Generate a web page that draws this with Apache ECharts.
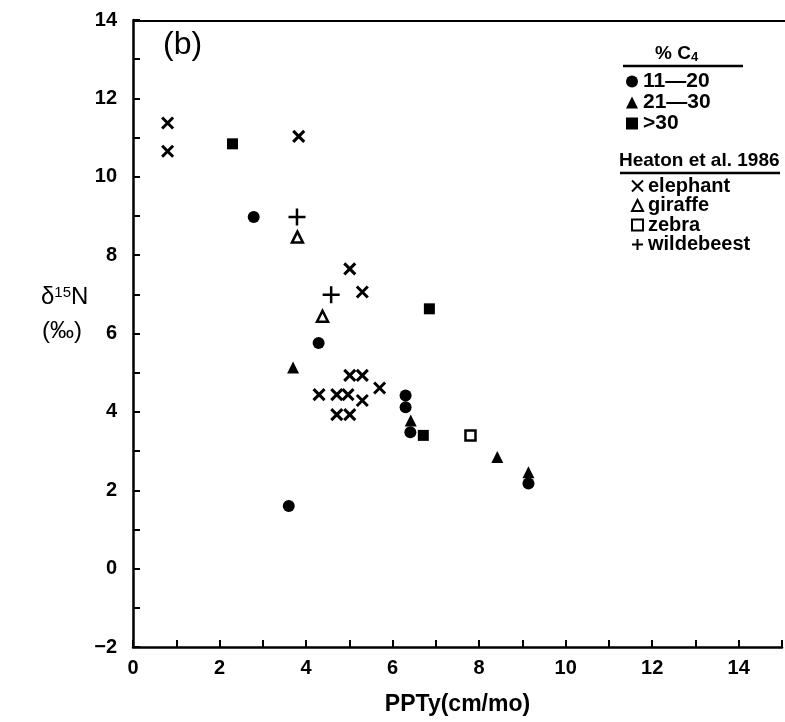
<!DOCTYPE html>
<html><head><meta charset="utf-8">
<script src="https://cdn.jsdelivr.net/npm/echarts@6/dist/echarts.min.js"></script>
<style>html,body{margin:0;padding:0;background:#fff}#c{width:785px;height:722px}</style>
</head><body><div id="c"></div>
<script>
// [PPTy (cm/mo), delta15N (permil)]
const c4_11_20 = [[2.79,8.97],[4.29,5.76],[6.30,4.42],[6.30,4.12],[6.41,3.48],[9.14,2.17],[3.60,1.60]];
const c4_21_30 = [[3.70,5.13],[6.42,3.78],[8.42,2.85],[9.14,2.46]];
const c4_gt30 = [[2.30,10.84],[6.85,6.63],[6.71,3.40]];
const elephant = [[0.80,11.37],[0.80,10.65],[3.83,11.03],[5.01,7.65],[5.30,7.06],[5.01,4.93],[5.30,4.93],
  [4.30,4.44],[4.71,4.44],[4.97,4.44],[5.30,4.29],[5.70,4.61],[4.71,3.93],[5.01,3.93]];
const giraffe = [[3.80,8.46],[4.38,6.44]];
const zebra = [[7.80,3.40]];
const wildebeest = [[3.79,8.97],[4.58,6.99]];
const xTicks = [0,2,4,6,8,10,12,14];
const yTicks = [-2,0,2,4,6,8,10,12,14];

const FONT = 'Liberation Sans';
const chart = echarts.init(document.getElementById('c'), null, {renderer:'canvas'});
const X_PATH = 'path://M0,0L10,10M10,0L0,10';
const PLUS_PATH = 'path://M5,0L5,10M0,5L10,5';
const black = '#000';
function lab(v){ return (v<0?'\u2212':'')+Math.abs(v); }
chart.setOption({
  animation:false,
  backgroundColor:'#fff',
  grid:{left:133,top:20,right:0,bottom:75,containLabel:false},
  xAxis:{type:'value',min:0,max:15,interval:1,
    axisLine:{onZero:false,lineStyle:{color:black,width:2.5}},
    axisTick:{inside:true,length:7,lineStyle:{color:black,width:2}},
    splitLine:{show:false},
    axisLabel:{color:black,fontFamily:FONT,fontWeight:'bold',fontSize:20,margin:11,
      formatter:v=>xTicks.indexOf(v)>=0?lab(v):''},
    name:'PPTy(cm/mo)',nameLocation:'middle',nameGap:46,
    nameTextStyle:{color:black,fontFamily:FONT,fontWeight:'bold',fontSize:23}
  },
  yAxis:{type:'value',min:-2,max:14,interval:1,
    axisLine:{onZero:false,lineStyle:{color:black,width:2.5}},
    axisTick:{inside:true,length:7,lineStyle:{color:black,width:2}},
    splitLine:{show:false},
    axisLabel:{color:black,fontFamily:FONT,fontWeight:'bold',fontSize:20,margin:16,
      formatter:v=>yTicks.indexOf(v)>=0?lab(v):''}
  },
  legend:[
    {orient:'vertical',left:621,top:66,itemWidth:12,itemHeight:12,itemGap:0,
      textStyle:{color:black,fontFamily:FONT,fontWeight:'bold',fontSize:21,lineHeight:16},
      data:['11\u201420','21\u201430','>30']},
    {orient:'vertical',left:626,top:171,itemWidth:11,itemHeight:11,itemGap:-0.5,
      textStyle:{color:black,fontFamily:FONT,fontWeight:'bold',fontSize:20,lineHeight:16},
      data:['elephant','giraffe','zebra','wildebeest']}
  ],
  graphic:[
    {type:'line',shape:{x1:133,y1:21,x2:785,y2:21},style:{stroke:black,lineWidth:2}},
    {type:'text',left:163,top:29,style:{text:'(b)',fill:black,font:'32px "Liberation Sans"'}},
    {type:'text',left:655,top:44,style:{
      text:'{a|% C}{s|4}',rich:{a:{fill:black,font:'bold 19px "Liberation Sans"'},s:{fill:black,font:'bold 13px "Liberation Sans"',verticalAlign:'bottom',padding:[8,0,0,0]}}}},
    {type:'line',shape:{x1:623,y1:66,x2:743,y2:66},style:{stroke:black,lineWidth:2.5}},
    {type:'text',left:619,top:151,style:{text:'Heaton et al. 1986',fill:black,font:'bold 19px "Liberation Sans"'}},
    {type:'line',shape:{x1:620,y1:173,x2:780,y2:173},style:{stroke:black,lineWidth:2.5}},
    {type:'text',left:41,top:285,style:{
      text:'{a|\u03b4}{s|15}{a|N}',rich:{a:{fill:black,font:'24px "Liberation Sans"'},s:{fill:black,font:'15px "Liberation Sans"',verticalAlign:'top',padding:[0,0,10,0]}}}},
    {type:'text',left:42,top:319,style:{text:'(\u2030)',fill:black,font:'24px "Liberation Sans"'}}
  ],
  series:[
    {name:'11\u201420',type:'scatter',data:c4_11_20,symbol:'circle',symbolSize:12,itemStyle:{color:black,opacity:1}},
    {name:'21\u201430',type:'scatter',data:c4_21_30,symbol:'triangle',symbolSize:12,itemStyle:{color:black,opacity:1}},
    {name:'>30',type:'scatter',data:c4_gt30,symbol:'rect',symbolSize:11,itemStyle:{color:black,opacity:1}},
    {name:'elephant',type:'scatter',data:elephant,symbol:X_PATH,symbolSize:11,
      itemStyle:{color:'rgba(0,0,0,0)',borderColor:black,borderWidth:3,opacity:1}},
    {name:'giraffe',type:'scatter',data:giraffe,symbol:'triangle',symbolSize:11,
      itemStyle:{color:'#fff',borderColor:black,borderWidth:2.5,opacity:1}},
    {name:'zebra',type:'scatter',data:zebra,symbol:'rect',symbolSize:10,
      itemStyle:{color:'#fff',borderColor:black,borderWidth:2.5,opacity:1}},
    {name:'wildebeest',type:'scatter',data:wildebeest,symbol:PLUS_PATH,symbolSize:17,
      itemStyle:{color:'rgba(0,0,0,0)',borderColor:black,borderWidth:2.5,opacity:1}}
  ]
});
</script></body></html>
